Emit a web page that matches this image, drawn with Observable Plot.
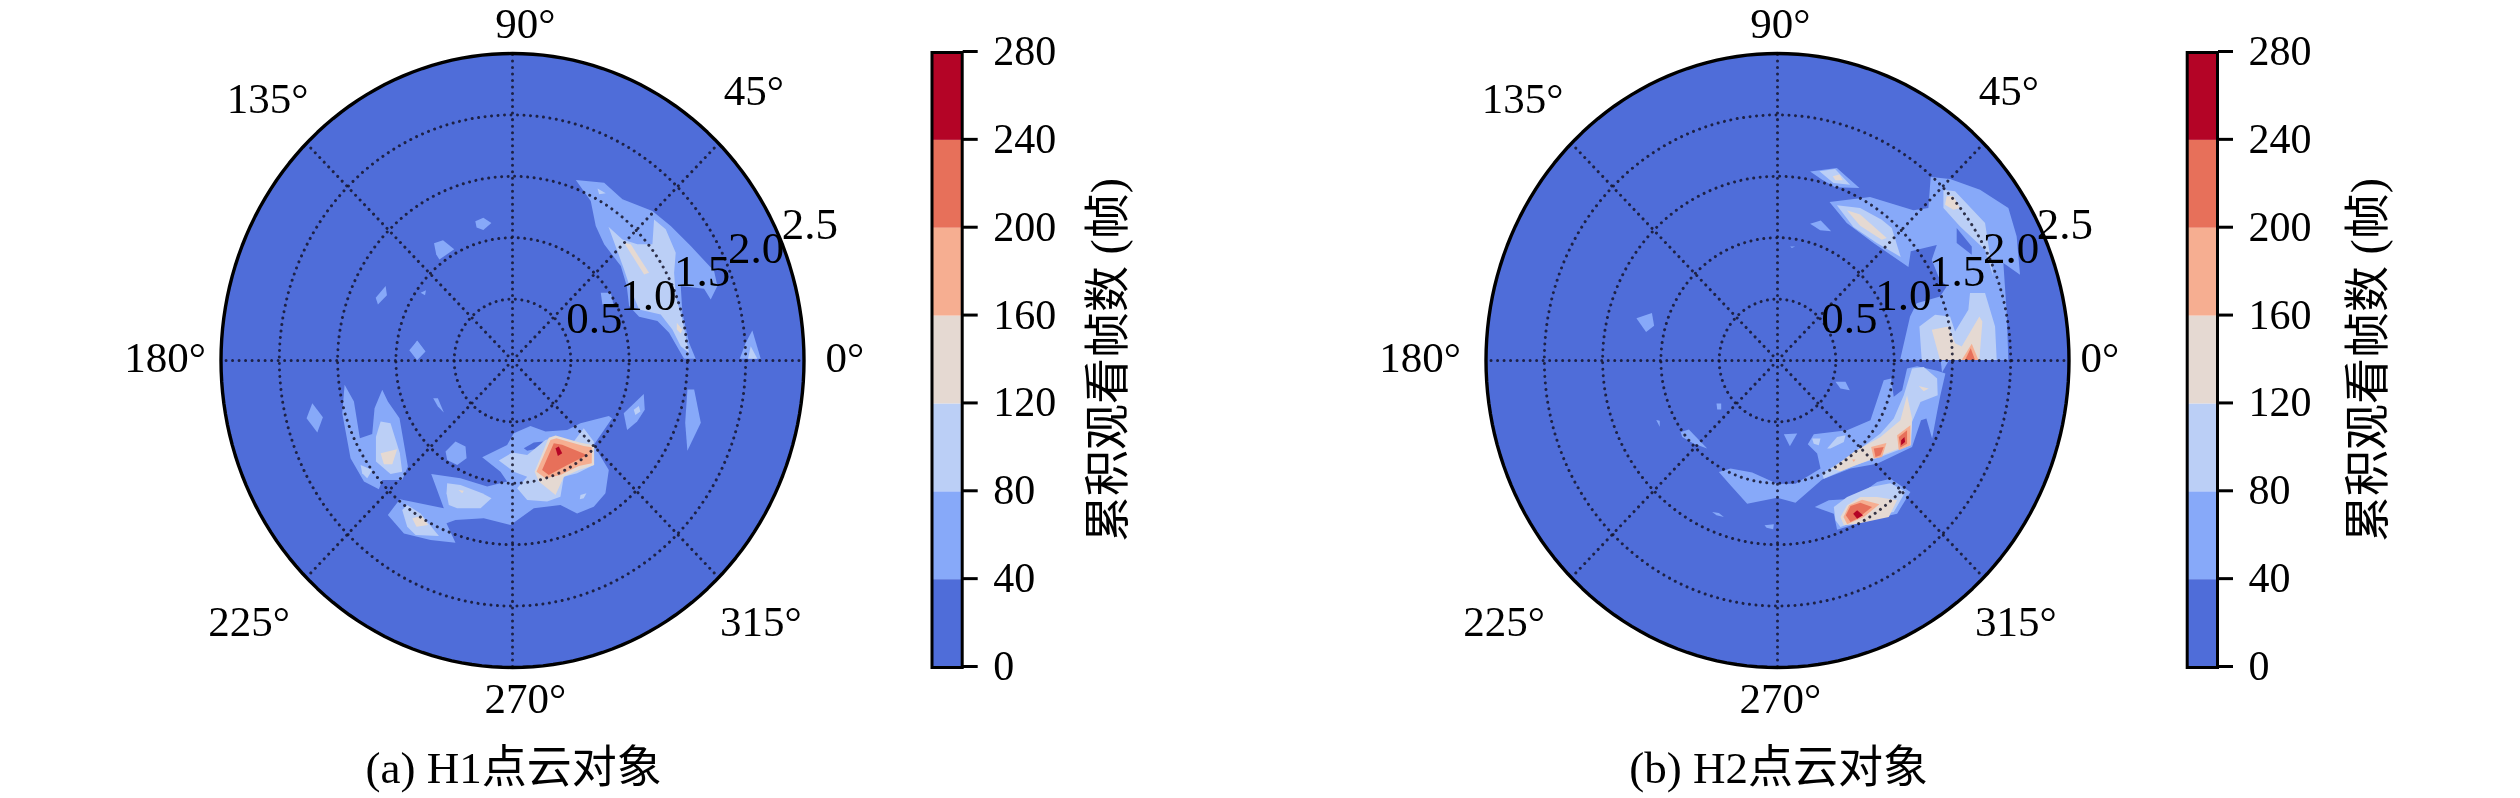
<!DOCTYPE html>
<html><head><meta charset="utf-8">
<script src="https://cdn.jsdelivr.net/npm/d3@7"></script>
<script src="https://cdn.jsdelivr.net/npm/@observablehq/plot@0.6"></script>
<style>
html,body{margin:0;padding:0;background:#fff;}
#page{position:relative;width:2520px;height:798px;overflow:hidden;}
#page svg{position:absolute;top:0;filter:blur(0.55px);overflow:visible;}
</style></head><body><div id="page"></div>
<script>
// ---- values ----
const levelEdges = [0,40,80,120,160,200,240,280];
const levelColors = ["#4f6dd9","#87a9f9","#bbcff6","#e5d9d2","#f6ae91","#e7705a","#b40426"];
const angleTicks = [0,45,90,135,180,225,270,315];
const angleLabels = ["0°","45°","90°","135°","180°","225°","270°","315°"];
const radiusTicks = [0.5,1.0,1.5,2.0,2.5];
const colorbarLabel = "累积观看帧数 (帧)";
const captions = ["(a) H1点云对象","(b) H2点云对象"];

// contour regions, each as a flat x, y, x, y, ... list in chart units
const h1Band40 = [
 [-1.717,-0.348,-1.626,-0.462,-1.674,-0.587,-1.766,-0.47],
 [-1.44,-0.198,-1.36,-0.334,-1.309,-0.633,-1.203,-0.598,-1.183,-0.389,-1.117,-0.239,-1.069,-0.334,-0.969,-0.47,-0.897,-0.864,-0.946,-0.973,-1.117,-0.973,-1.146,-1.049,-1.274,-0.986,-1.389,-0.796,-1.46,-0.429],
 [-0.574,-0.742,-0.489,-0.66,-0.403,-0.701,-0.394,-0.796,-0.474,-0.851,-0.56,-0.81],
 [-0.68,-0.307,-0.64,-0.307,-0.589,-0.424,-0.64,-0.375],
 [-0.817,0.163,-0.746,0.073,-0.817,0.005,-0.874,0.082],
 [-0.697,-0.924,-0.446,-0.959,-0.217,-1.027,-0.046,-0.986,-0.103,-0.905,-0.26,-0.788,-0.046,-0.688,0.011,-0.592,0.154,-0.533,0.283,-0.579,0.469,-0.565,0.583,-0.511,0.826,-0.451,0.854,-0.47,0.697,-0.688,0.826,-0.891,0.797,-1.082,0.697,-1.19,0.554,-1.245,0.411,-1.177,0.183,-1.204,-0.017,-1.34,-0.246,-1.285,-0.489,-1.299,-0.566,-1.326,-0.489,-1.484,-0.703,-1.462,-0.931,-1.408,-1.069,-1.258,-0.966,-1.13,-0.589,-1.204],
 [0.954,-0.429,1.126,-0.272,1.134,-0.402,1.069,-0.497,0.983,-0.565],
 [0.543,1.47,0.786,1.448,0.943,1.313,1.2,1.217,1.357,1.095,1.529,0.932,1.729,0.728,1.757,0.606,1.7,0.497,1.643,0.584,1.443,0.606,1.457,0.389,1.514,0.144,1.571,0.014,1.471,0.014,1.343,0.226,1.243,0.321,1.086,0.356,1.0,0.443,0.98,0.606,0.929,0.769,0.786,0.946,0.714,1.095,0.671,1.299],
 [0.757,0.552,0.843,0.552,0.866,0.457,0.771,0.457],
 [2.057,0.245,2.129,0.014,1.949,0.014,2.0,0.144],
 [-0.319,1.133,-0.25,1.162,-0.181,1.12,-0.25,1.062,-0.308,1.083],
 [-0.673,0.954,-0.596,0.979,-0.5,0.905,-0.627,0.822,-0.654,0.863],
 [-1.173,0.51,-1.088,0.606,-1.077,0.531,-1.154,0.456],
 [-0.885,0.083,-0.819,0.158,-0.75,0.075,-0.819,0.004],
 [-0.788,0.552,-0.742,0.573,-0.75,0.531],
 [1.5,-0.237,1.558,-0.237,1.615,-0.506,1.5,-0.734,1.481,-0.506]
];
const h1Holes = [
 [0.097,-0.715,0.183,-0.668,0.263,-0.66,0.226,-0.715,0.126,-0.734]
];
const h1Band80 = [
 [-1.131,-0.497,-1.046,-0.511,-0.966,-0.755,-0.946,-0.905,-1.046,-0.924,-1.171,-0.823,-1.171,-0.62],
 [-1.303,-0.851,-1.203,-0.891,-1.246,-0.959,-1.289,-0.918],
 [-0.117,-0.815,-0.003,-0.75,0.126,-0.769,0.283,-0.647,0.354,-0.625,0.526,-0.66,0.611,-0.552,0.697,-0.66,0.697,-0.851,0.554,-0.918,0.44,-0.946,0.411,-1.109,0.297,-1.149,0.126,-1.136,0.04,-1.041,0.126,-0.946,0.011,-0.905],
 [-0.56,-1.0,-0.446,-1.014,-0.26,-1.082,-0.18,-1.122,-0.274,-1.204,-0.474,-1.204,-0.546,-1.177,-0.566,-1.082],
 [-0.946,-1.217,-0.903,-1.177,-0.789,-1.245,-0.631,-1.429,-0.831,-1.421,-0.903,-1.353],
 [0.583,-1.095,0.634,-1.082,0.611,-1.122,0.577,-1.13],
 [1.04,-0.402,1.083,-0.37,1.097,-0.416,1.054,-0.443],
 [0.823,1.09,0.943,0.986,1.071,0.946,1.2,0.946,1.214,1.149,1.314,1.068,1.4,0.878,1.386,0.715,1.4,0.524,1.457,0.334,1.514,0.062,1.443,0.117,1.371,0.253,1.271,0.375,1.086,0.416,1.014,0.579,0.957,0.742],
 [0.729,1.4,0.8,1.361,0.743,1.353],
 [2.043,0.117,2.1,0.014,2.02,0.014]
];
const h1Band120 = [
 [-1.131,-0.755,-0.989,-0.723,-1.031,-0.845,-1.103,-0.845],
 [-0.86,-1.285,-0.78,-1.266,-0.723,-1.34,-0.823,-1.353],
 [-0.463,-1.054,-0.417,-1.06,-0.431,-1.082],
 [0.19,-0.905,0.311,-0.63,0.37,-0.61,0.583,-0.67,0.7,-0.69,0.7,-0.85,0.569,-0.891,0.44,-0.946,0.369,-1.095,0.226,-0.986],
 [0.957,0.959,1.014,0.946,1.171,0.715,1.129,0.701],
 [1.409,0.307,1.457,0.253,1.443,0.22,1.409,0.253]
];
const h1Band160 = [
 [0.206,-0.905,0.326,-0.647,0.377,-0.633,0.611,-0.696,0.68,-0.707,0.68,-0.837,0.569,-0.859,0.411,-0.932,0.283,-0.959]
];
const h1Band200 = [
 [0.254,-0.891,0.354,-0.674,0.426,-0.687,0.64,-0.769,0.471,-0.851,0.311,-0.932]
];
const h1Band240 = [
 [0.369,-0.715,0.397,-0.701,0.426,-0.755,0.389,-0.777]
];

const h2Band40 = [
 [0.28,1.54,0.509,1.568,0.703,1.405,0.494,1.41,0.38,1.473],
 [0.28,1.114,0.371,1.141,0.46,1.052,0.366,1.06],
 [0.109,0.929,0.151,0.929,0.123,0.916],
 [0.446,1.291,0.794,1.332,1.166,1.223,1.294,1.242,1.314,1.495,1.48,1.478,1.737,1.391,1.98,1.242,2.051,1.011,2.08,0.698,1.937,0.793,1.966,0.386,1.98,0.005,1.051,0.005,1.137,0.359,1.194,0.467,1.394,0.522,1.451,0.603,1.38,0.685,1.323,0.821,1.366,0.94,1.143,0.889,1.123,0.761,0.823,0.957,0.594,1.12],
 [1.111,-0.065,1.197,-0.046,1.369,-0.084,1.44,-0.106,1.397,-0.283,1.369,-0.418,1.326,-0.636,1.277,-0.473,1.231,-0.486,1.154,-0.704,0.854,-0.84,0.626,-0.88,0.383,-0.97,0.154,-1.158,-0.003,-1.117,-0.26,-1.166,-0.403,-1.016,-0.503,-0.908,-0.403,-0.88,-0.217,-0.913,-0.003,-1.003,0.154,-1.003,0.369,-0.88,0.34,-0.758,0.26,-0.682,0.311,-0.601,0.597,-0.568,0.797,-0.486,0.854,-0.323,0.911,-0.16,0.974,-0.147,0.997,-0.296,1.069,-0.242],
 [1.4,-0.003,1.469,-0.003,1.411,-0.098],
 [0.32,-1.193,0.44,-1.139,0.654,-1.125,0.854,-0.989,0.969,-0.962,1.14,-1.071,1.026,-1.247,0.769,-1.302,0.511,-1.378,0.483,-1.247],
 [0.497,-0.174,0.583,-0.174,0.62,-0.242,0.54,-0.228],
 [0.054,-0.601,0.169,-0.595,0.106,-0.698],
 [-0.523,-0.351,-0.483,-0.351,-0.483,-0.399,-0.517,-0.399],
 [-0.831,-0.582,-0.76,-0.562,-0.603,-0.717,-0.717,-0.677,-0.817,-0.622],
 [-0.56,-1.234,-0.503,-1.242,-0.46,-1.274,-0.523,-1.261],
 [-0.111,-1.342,-0.031,-1.334,-0.037,-1.375,-0.094,-1.361],
 [-1.21,0.344,-1.077,0.386,-1.058,0.282,-1.127,0.232],
 [-1.04,-0.485,-1.01,-0.49,-1.01,-0.54]
];
const h2Holes = [
 [1.537,1.079,1.666,0.929,1.666,0.861,1.537,0.957]
];
const h2Band80 = [
 [0.509,1.264,0.709,1.242,0.894,1.147,0.98,1.079,1.057,0.842,0.851,0.957,0.651,1.087],
 [0.36,1.541,0.494,1.56,0.623,1.432,0.48,1.446],
 [1.423,1.391,1.523,1.378,1.78,1.12,1.851,0.685,1.78,0.902,1.566,1.092,1.423,1.242],
 [1.237,0.005,1.217,0.277,1.351,0.372,1.48,0.359,1.523,0.236,1.637,0.413,1.651,0.549,1.78,0.549,1.866,0.277,1.88,0.005],
 [1.154,-0.065,1.254,-0.052,1.369,-0.147,1.374,-0.283,1.226,-0.337,1.154,-0.5,1.146,-0.69,0.883,-0.785,0.64,-0.861,0.397,-0.962,0.383,-0.921,0.654,-0.758,0.883,-0.595,0.997,-0.473,1.083,-0.283],
 [0.297,-0.636,0.369,-0.636,0.354,-0.69,0.311,-0.677],
 [0.426,-0.717,0.511,-0.622,0.583,-0.609,0.569,-0.663,0.454,-0.717],
 [0.483,-1.193,0.597,-1.111,0.797,-1.03,0.969,-1.0,1.097,-1.068,0.997,-1.234,0.769,-1.274,0.54,-1.356,0.497,-1.301]
];
const h2Band120 = [
 [1.323,0.25,1.466,0.277,1.523,0.141,1.58,0.114,1.731,0.359,1.757,0.318,1.731,0.005,1.394,0.005],
 [0.594,1.223,0.709,1.188,0.937,0.997,0.894,0.984,0.709,1.098],
 [0.474,1.5,0.531,1.514,0.56,1.467,0.497,1.467],
 [1.451,1.337,1.509,1.337,1.566,1.242,1.509,1.228,1.437,1.269],
 [1.111,-0.283,1.154,-0.473,1.14,-0.682,0.854,-0.785,0.54,-0.902,0.469,-0.88,0.654,-0.745,0.883,-0.622,1.054,-0.486],
 [1.211,-0.207,1.297,-0.228,1.254,-0.25],
 [0.54,-1.274,0.597,-1.179,0.711,-1.111,0.854,-1.111,1.026,-1.139,0.954,-1.274,0.683,-1.329,0.569,-1.342]
];
const h2Band160 = [
 [1.58,0.005,1.666,0.136,1.723,0.005],
 [0.803,-0.704,0.934,-0.671,0.897,-0.785,0.826,-0.799],
 [1.026,-0.609,1.14,-0.527,1.14,-0.69,1.04,-0.731],
 [0.64,-0.807,0.669,-0.807,0.654,-0.826],
 [0.566,-1.274,0.614,-1.179,0.726,-1.133,0.874,-1.171,0.74,-1.274,0.597,-1.334]
];
const h2Band200 = [
 [1.609,0.005,1.657,0.1,1.694,0.005],
 [0.826,-0.717,0.911,-0.704,0.883,-0.772,0.84,-0.785],
 [1.04,-0.622,1.111,-0.568,1.111,-0.677,1.054,-0.709],
 [0.586,-1.261,0.626,-1.185,0.711,-1.158,0.811,-1.193,0.683,-1.288,0.626,-1.315]
];
const h2Band240 = [
 [1.06,-0.649,1.089,-0.622,1.094,-0.663,1.06,-0.69],
 [0.649,-1.247,0.683,-1.22,0.734,-1.261,0.683,-1.288]
];

// ---- layout ----
const FONT = '"Liberation Serif","Noto Sans CJK SC",serif';
const RMAX = 2.5;
// where each angle label sits, in chart units
const labelAnchors = {0:[2.85,0.02],45:[2.07,2.19],90:[0.111,2.74],135:[-2.10,2.13],180:[-2.98,0.02],225:[-2.26,-2.13],270:[0.111,-2.76],315:[2.13,-2.13]};
const rad = d => d*Math.PI/180;

function rows(groups, level, tag){
  return groups.flatMap((g,i)=>{
    const out=[];
    for(let k=0;k<g.length;k+=2) out.push({id:tag+"-"+level+"-"+i,level,x:g[k],y:g[k+1]});
    return out;
  });
}
function ring(r){ return d3.range(0,361,2).map(a=>({x:r*Math.cos(rad(a)),y:r*Math.sin(rad(a))})); }

function panel(left, width, cx, layers, caption, labelDx){
  const rx=291.5, yTop=53, yBot=667;
  const data = layers.flatMap(([g,lv],i)=>rows(g,lv,"L"+i));
  const dot = {stroke:"#14142a",strokeWidth:3,strokeDasharray:"0.01 6.5",strokeLinecap:"round",strokeOpacity:0.85};
  const svg = Plot.plot({
    width, height:798, margin:0,
    style:{fontFamily:FONT,fontSize:"43px",background:"transparent",color:"#000",overflow:"visible"},
    x:{axis:null,domain:[-RMAX,RMAX],range:[cx-rx,cx+rx]},
    y:{axis:null,domain:[-RMAX,RMAX],range:[yBot,yTop]},
    color:{type:"threshold",domain:levelEdges.slice(1,-1),range:levelColors},
    marks:[
      Plot.line(ring(RMAX),{x:"x",y:"y",fill:()=>20,stroke:"none"}),
      Plot.line(data,{x:"x",y:"y",z:"id",fill:"level",stroke:"none"}),
      ...radiusTicks.slice(0,-1).map(r=>Plot.line(ring(r),{x:"x",y:"y",...dot})),
      Plot.link(angleTicks,{x1:0,y1:0,x2:a=>RMAX*Math.cos(rad(a)),y2:a=>RMAX*Math.sin(rad(a)),...dot}),
      Plot.line(ring(RMAX),{x:"x",y:"y",stroke:"#000",strokeWidth:3.4}),
      Plot.text(radiusTicks,{x:r=>r*Math.cos(rad(22.5)),y:r=>r*Math.sin(rad(22.5)),text:r=>r.toFixed(1),textAnchor:"start",lineAnchor:"bottom",fill:"#000",dx:labelDx,dy:-4,fontSize:45}),
      Plot.text(angleTicks,{x:a=>labelAnchors[a][0],y:a=>labelAnchors[a][1],text:(a,i)=>angleLabels[i],fill:"#000",dx:labelDx}),
      Plot.text([caption],{x:0.01,y:-3.32,text:d=>d,fontSize:45,fill:"#000"})
    ]
  });
  svg.style.left=left+"px";
  document.getElementById("page").appendChild(svg);
}

function colorbar(left, x0, x1, labelPx){
  const width=340;
  const bands=levelColors.map((c,i)=>({lo:levelEdges[i],hi:levelEdges[i+1],mid:(levelEdges[i]+levelEdges[i+1])/2}));
  const svg = Plot.plot({
    width,height:798,
    marginLeft:x0,marginRight:width-x1,marginTop:52,marginBottom:798-667,
    style:{fontFamily:FONT,fontSize:"42px",background:"transparent",color:"#000",overflow:"visible"},
    x:{axis:null,domain:[0,1]},
    y:{domain:[0,280],axis:null},
    color:{type:"threshold",domain:levelEdges.slice(1,-1),range:levelColors},
    marks:[
      Plot.rect(bands,{x1:0,x2:1,y1:"lo",y2:"hi",fill:"mid"}),
      Plot.frame({stroke:"#000",strokeWidth:3}),
      Plot.axisY({anchor:"right",ticks:levelEdges,tickSize:15,tickPadding:16,strokeWidth:3,fontSize:42,tickFormat:d=>String(d),label:null,fontVariant:"normal",dy:-1}),
      Plot.text([colorbarLabel],{x:(labelPx-x0)/(x1-x0),y:140,text:d=>d,rotate:-90,fontSize:46,fill:"#000"})
    ]
  });
  svg.style.left=left+"px";
  document.getElementById("page").appendChild(svg);
}

panel(0,920,512,[[h1Band40,60],[h1Holes,20],[h1Band80,100],[h1Band120,140],[h1Band160,180],[h1Band200,220],[h1Band240,260]],captions[0],0);
colorbar(920,11.5,41.7,188);
panel(1260,920,517,[[h2Band40,60],[h2Holes,20],[h2Band80,100],[h2Band120,140],[h2Band160,180],[h2Band200,220],[h2Band240,260]],captions[1],-10);
colorbar(2175,11.7,42,193);
</script></body></html>
